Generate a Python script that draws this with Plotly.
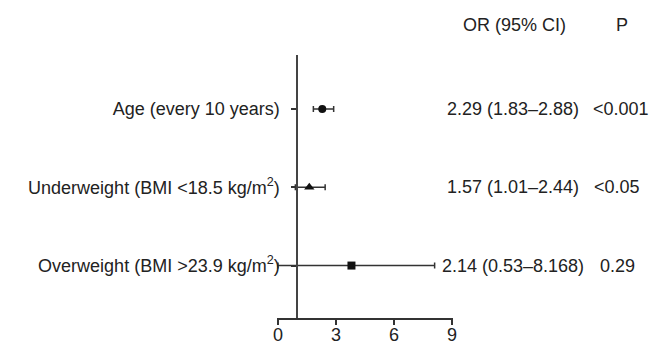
import plotly.graph_objects as go

# ---- data ----
categories = ["Age (every 10 years)",
              "Underweight (BMI <18.5 kg/m<sup>2</sup>)",
              "Overweight (BMI >23.9 kg/m<sup>2</sup>)"]
or_point = [2.29, 1.62, 3.8]
ci_low = [1.83, 0.9, 0.0]
ci_high = [2.88, 2.44, 8.1]
or_text = ["2.29 (1.83\u20132.88)", "1.57 (1.01\u20132.44)", "2.14 (0.53\u20138.168)"]
p_text = ["<0.001", "<0.05", "0.29"]
x_ticks = [0, 3, 6, 9]
header_or = "OR (95% CI)"
header_p = "P"

W, H = 651, 344
FONT = "Liberation Sans, Arial, Helvetica, sans-serif"
FS = 18
COL = "#222222"
LINE = "#333333"

x_range = [-0.05, 9.05]
y_range = [-0.67, 2.69]
ypos = [2, 1, 0]
symbols = ["circle", "triangle-up", "square"]
msizes = [8, 9, 8]

# target plot-area pixel box on the page
px_left, px_right = 276.7, 452.7
px_top, px_bottom = 55, 318

ml = px_left
mr = W - px_right
mt = px_top
mb = H - px_bottom
plot_w = px_right - px_left
plot_h = px_bottom - px_top

def pxx(px):
    return (px - px_left) / plot_w

def pxy(py):
    return (px_bottom - py) / plot_h

fig = go.Figure()
for i in range(len(categories)):
    fig.add_trace(go.Scatter(
        x=[or_point[i]], y=[ypos[i]], mode="markers",
        marker=dict(symbol=symbols[i], size=msizes[i], color="#111111"),
        error_x=dict(type="data", symmetric=False,
                     array=[ci_high[i] - or_point[i]],
                     arrayminus=[or_point[i] - ci_low[i]],
                     color=LINE, thickness=1.5, width=3),
        cliponaxis=False, showlegend=False, hoverinfo="skip"))

tf = dict(family=FONT, size=FS, color=COL)
annotations = []
def add_text(xpx, y, yref, text):
    annotations.append(dict(x=pxx(xpx), y=y, xref="paper", yref=yref,
                            xanchor="center", yanchor="middle",
                            text=text, showarrow=False, font=tf))

for i in range(len(categories)):
    add_text(513, ypos[i], "y", or_text[i])
p_centers = [621, 617, 617]
for i in range(len(categories)):
    add_text(p_centers[i], ypos[i], "y", p_text[i])
add_text(514, pxy(25), "paper", header_or)
add_text(622, pxy(25), "paper", header_p)

ypos_paper = (1 - x_range[0]) / (x_range[1] - x_range[0])

fig.update_layout(
    width=W, height=H,
    margin=dict(l=ml, r=mr, t=mt, b=mb, pad=0, autoexpand=False),
    paper_bgcolor="white", plot_bgcolor="white",
    font=tf,
    xaxis=dict(range=x_range, tickvals=x_ticks, ticktext=[str(v) for v in x_ticks],
               showgrid=False, zeroline=False, showline=True, linecolor=LINE,
               linewidth=1.5, ticks="outside", ticklen=5, tickwidth=1.5,
               tickcolor=LINE, tickfont=tf, automargin=False,
               ticklabelstandoff=-5),
    yaxis=dict(range=y_range, tickvals=ypos, ticktext=categories,
               anchor="free", position=ypos_paper,
               showgrid=False, zeroline=False, showline=True, linecolor="#444444",
               linewidth=2, ticks="outside", ticklen=5, tickwidth=1.5,
               tickcolor=LINE, tickfont=tf, automargin=False,
               ticklabelstandoff=8),
    annotations=annotations,
)

fig.write_html("out.html",
               config={"displayModeBar": False},
               post_script="document.body.style.margin='0';"
                           "document.body.style.overflow='hidden';"
                           "document.documentElement.style.overflow='hidden';")
